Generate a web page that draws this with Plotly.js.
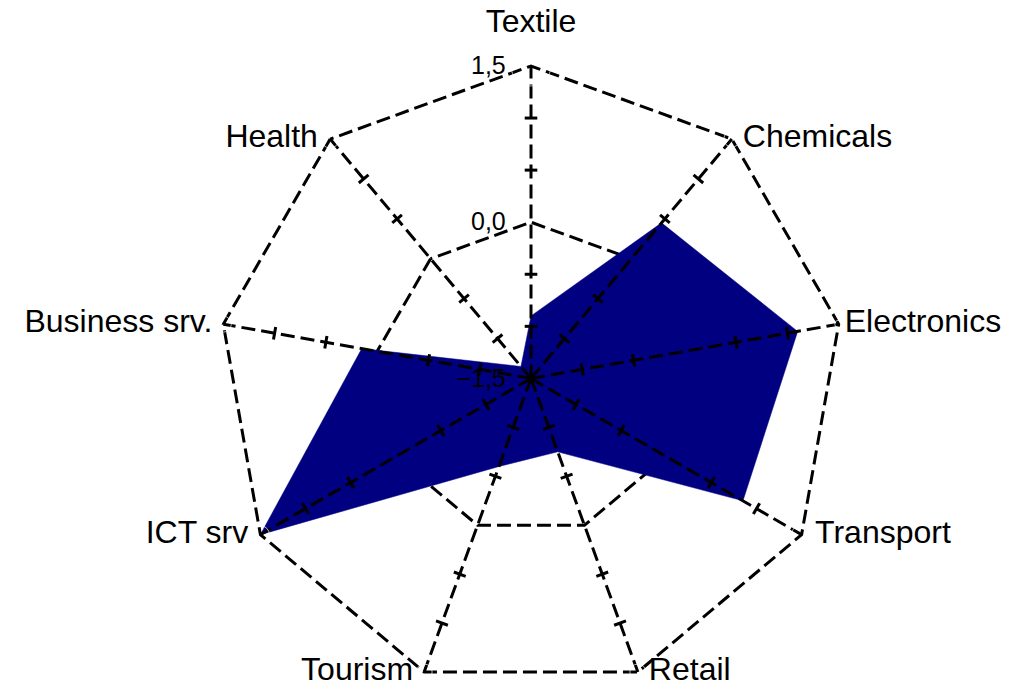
<!DOCTYPE html>
<html>
<head>
<meta charset="utf-8">
<script src="https://cdn.plot.ly/plotly-3.0.1.min.js"></script>
<style>html,body{margin:0;padding:0;background:#fff;}#chart{width:1014px;height:694px;}</style>
</head>
<body>
<div id="chart"></div>
<script>
// Data
const categories = ["Textile", "Chemicals", "Electronics", "Transport", "Retail", "Tourism", "ICT srv", "Business srv.", "Health"];
const values = [-0.9, 0.45, 1.1, 0.85, -0.75, -0.6, 1.5, 0.15, -1.35];
const radialTicks = [-1.5, 0.0, 1.5];
const minorTicks = [-1.0, -0.5, 0.5, 1.0];

// Label placement styles (one per category)
const labelPositions = ["top center", "middle right", "middle right", "middle right", "middle right",
                        "middle left", "middle left", "middle left", "middle left"];
const labelPads = [40, 16, 8, 20, 16, 16, 18, 16, 18];

const innerR = radialTicks[0];
const outerR = radialTicks[radialTicks.length - 1];
const rangeMax = 1.53;

// Spokes (drawn above the filled area), built from the axis ticks and category order
const spokeR = [], spokeTheta = [];
categories.forEach(c => {
  spokeR.push(innerR, outerR, null);
  spokeTheta.push(c, c, null);
});

// Minor tick crosses on every spoke, built from the tick list and category order
const tickTheta = [], tickR = [], tickAngle = [];
categories.forEach((c, i) => {
  minorTicks.forEach(t => {
    tickTheta.push(c);
    tickR.push(t);
    tickAngle.push(360 / categories.length * i);
  });
});

const dashPattern = "14px,6px";

const traces = [
  {
    type: "scatterpolar",
    r: values.concat([values[0]]),
    theta: categories.concat([categories[0]]),
    mode: "lines",
    fill: "toself",
    fillcolor: "#000080",
    line: {color: "#000080", width: 0.5},
    hoverinfo: "skip"
  },
  {
    type: "scatterpolar",
    r: spokeR,
    theta: spokeTheta,
    mode: "lines",
    connectgaps: false,
    line: {color: "#000", width: 3, dash: dashPattern},
    hoverinfo: "skip"
  },
  {
    type: "scatterpolar",
    r: tickR,
    theta: tickTheta,
    mode: "markers",
    marker: {symbol: "line-ew", size: 9, angle: tickAngle, color: "#000", line: {color: "#000", width: 3}},
    hoverinfo: "skip"
  },
  {
    type: "scatterpolar",
    r: categories.map(() => outerR),
    theta: categories,
    mode: "markers+text",
    text: categories,
    textposition: labelPositions,
    textfont: {size: 32, color: "#000", family: "Liberation Sans, Arial, sans-serif"},
    marker: {size: labelPads, color: "rgba(0,0,0,0)"},
    cliponaxis: false,
    hoverinfo: "skip"
  }
];

const cx = 531, cy = 381, R = 315 * (rangeMax + 1.5) / 3, W = 1014, H = 694;
const layout = {
  width: W, height: H,
  margin: {l: 0, r: 0, t: 0, b: 0},
  paper_bgcolor: "#fff",
  showlegend: false,
  separators: ",.",
  font: {family: "Liberation Sans, Arial, sans-serif", color: "#000"},
  polar: {
    domain: {x: [(cx - R) / W, (cx + R) / W], y: [(H - cy - R) / H, (H - cy + R) / H]},
    bgcolor: "rgba(0,0,0,0)",
    gridshape: "linear",
    angularaxis: {
      type: "category",
      categoryarray: categories,
      direction: "clockwise",
      rotation: 90,
      showline: false,
      showgrid: false,
      showticklabels: false,
      ticks: "",
      layer: "above traces"
    },
    radialaxis: {
      range: [-1.5, rangeMax],
      tickvals: radialTicks,
      tickformat: ".1f",
      showline: false,
      ticks: "outside",
      ticklen: 16,
      tickcolor: "rgba(0,0,0,0)",
      angle: 90,
      side: "counterclockwise",
      tickangle: 90,
      gridcolor: "#000",
      gridwidth: 3,
      griddash: dashPattern,
      tickfont: {size: 25, color: "#000"},
      layer: "above traces"
    }
  }
};

Plotly.newPlot("chart", traces, layout, {displayModeBar: false, staticPlot: true}).then(gd => {
  // Plotly's in-range test for polygon grids with a negative radial start wrongly hides
  // the spoke tick crosses; make the library-placed points visible again.
  const tickTrace = gd.querySelectorAll(".scatterlayer .trace")[2];
  if (tickTrace) tickTrace.querySelectorAll(".point").forEach(p => p.removeAttribute("display"));
});
</script>
</body>
</html>
